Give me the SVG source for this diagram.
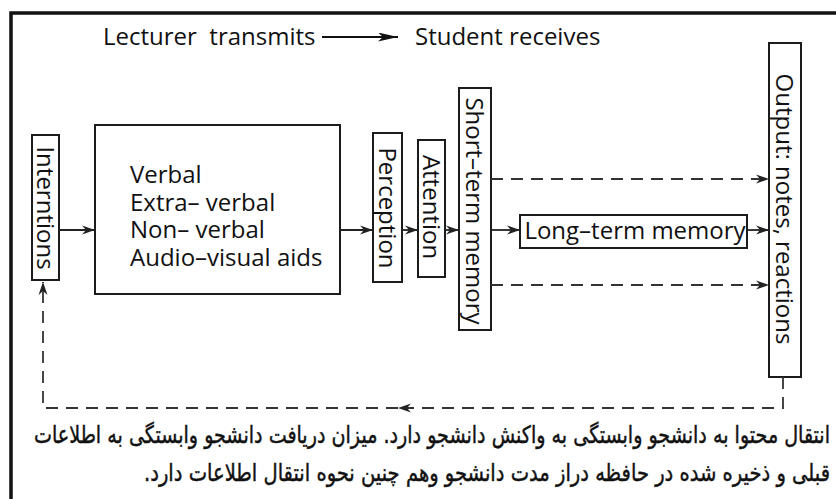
<svg xmlns="http://www.w3.org/2000/svg" width="836" height="499" viewBox="0 0 836 499">
  <style>
    .box { fill: #fff; stroke: #1c1c1c; stroke-width: 2; }
    .lbl { font-family: "Open Sans", "Noto Sans", sans-serif; font-size: 24px; fill: #111; }
    .vlbl { font-family: "Open Sans", "Noto Sans", sans-serif; font-size: 24px; fill: #111; text-anchor: middle; }
    .line { fill: none; stroke: #222; stroke-width: 1.8; }
    .dash { fill: none; stroke: #333; stroke-width: 1.8; stroke-dasharray: 12 8; }
    .fa { font-family: "DejaVu Sans", sans-serif; font-size: 24px; fill: #111; stroke: #111; stroke-width: 0.45; }
  </style>
  <defs>
    <marker id="arr" markerUnits="userSpaceOnUse" markerWidth="15" markerHeight="11" refX="13" refY="5" orient="auto">
      <path d="M0,0.5 L13,5 L0,9.5 L4,5 Z" fill="#222"/>
    </marker>
    <marker id="arrBig" markerUnits="userSpaceOnUse" markerWidth="22" markerHeight="10" refX="20" refY="4.5" orient="auto">
      <path d="M0,0 L20,4.5 L0,9 L5,4.5 Z" fill="#111"/>
    </marker>
  </defs>

  <rect width="836" height="499" fill="#fff"/>

  <!-- outer frame (top and left edges) -->
  <path d="M11,499 V13 H836" fill="none" stroke="#111" stroke-width="3.5"/>

  <!-- heading -->
  <g id="heading">
    <text class="lbl" x="103" y="45" xml:space="preserve">Lecturer  transmits</text>
    <path d="M322,37 H398" fill="none" stroke="#111" stroke-width="2" marker-end="url(#arrBig)"/>
    <text class="lbl" x="415" y="45">Student receives</text>
  </g>

  <g id="interntions">
    <rect class="box" x="32" y="135" width="27" height="145"/>
    <text class="vlbl" transform="translate(45.5,208) rotate(90)" dy="0.36em">Interntions</text>
  </g>

  <g id="channels">
    <rect class="box" x="95" y="125" width="245" height="169"/>
    <text class="lbl" x="130" y="183">Verbal</text>
    <text class="lbl" x="130" y="210.5" xml:space="preserve">Extra– verbal</text>
    <text class="lbl" x="130" y="238" xml:space="preserve">Non– verbal</text>
    <text class="lbl" x="130" y="265.5">Audio–visual aids</text>
  </g>

  <g id="perception">
    <rect class="box" x="373" y="133" width="29" height="149"/>
    <text class="vlbl" transform="translate(387.5,208) rotate(90)" dy="0.36em">Perception</text>
  </g>

  <g id="attention">
    <rect class="box" x="418" y="140" width="27" height="137"/>
    <text class="vlbl" transform="translate(431.5,207) rotate(90)" dy="0.36em">Attention</text>
  </g>

  <g id="short-term-memory">
    <rect class="box" x="459" y="88" width="32" height="242"/>
    <text class="vlbl" transform="translate(475,211) rotate(90)" dy="0.36em">Short–term memory</text>
  </g>

  <g id="long-term-memory">
    <rect class="box" x="520" y="215" width="227" height="33"/>
    <text class="lbl" x="635" y="239" text-anchor="middle">Long–term memory</text>
  </g>

  <g id="output">
    <rect class="box" x="769" y="43" width="32" height="334"/>
    <text class="vlbl" transform="translate(785,209) rotate(90)" dy="0.36em">Output: notes, reactions</text>
  </g>

  <!-- connectors -->
  <g id="connectors">
    <path class="line" d="M59,230 H95" marker-end="url(#arr)"/>
    <path class="line" d="M340,230 H373" marker-end="url(#arr)"/>
    <path class="line" d="M402,230 H418" marker-end="url(#arr)"/>
    <path class="line" d="M445,230 H459" marker-end="url(#arr)"/>
    <path class="line" d="M491,230 H520" marker-end="url(#arr)"/>
    <path class="line" d="M747,230 H769" marker-end="url(#arr)"/>
    <path class="dash" d="M491,179 H769" marker-end="url(#arr)"/>
    <path class="dash" d="M491,285 H769" marker-end="url(#arr)"/>
    <!-- feedback loop back to the intentions -->
    <path class="dash" d="M783,377 V408 H398" marker-end="url(#arr)"/>
    <path class="dash" d="M398,408 H43 V282" marker-end="url(#arr)"/>
  </g>

  <!-- caption -->
  <g id="caption">
    <text class="fa" x="830" y="443" direction="rtl" textLength="796" lengthAdjust="spacingAndGlyphs">انتقال محتوا به دانشجو وابستگی به واکنش دانشجو دارد. میزان دریافت دانشجو وابستگی به اطلاعات</text>
    <text class="fa" x="830" y="481" direction="rtl" textLength="686" lengthAdjust="spacingAndGlyphs">قبلی و ذخیره شده در حافظه دراز مدت دانشجو وهم چنین نحوه انتقال اطلاعات دارد.</text>
  </g>
</svg>
